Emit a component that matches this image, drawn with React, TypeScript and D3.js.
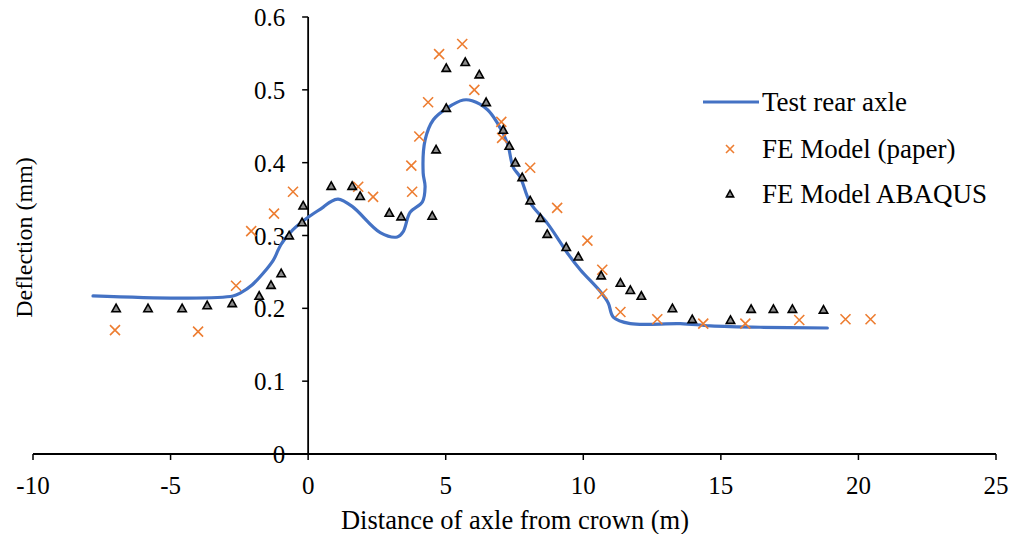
import React from "react";
import * as d3 from "d3";

const lineX = [-7.82, -4.55, -2.73, -2.47, -2.04, -1.27, -1.09, -0.95, -0.55, -0.04, 0.55, 0.8, 1.09, 1.6, 2.62, 3.24, 3.45, 3.71, 4.15, 4.25, 4.18, 4.25, 4.55, 5.05, 5.64, 5.96, 6.51, 6.87, 7.24, 7.45, 7.71, 8.07, 8.69, 9.16, 9.42, 9.89, 10.62, 10.91, 11.09, 11.71, 13.53, 14.62, 16.44, 18.87];
const lineY = [0.217, 0.214, 0.217, 0.221, 0.232, 0.266, 0.28, 0.29, 0.308, 0.324, 0.339, 0.346, 0.35, 0.34, 0.304, 0.298, 0.305, 0.332, 0.346, 0.367, 0.386, 0.431, 0.459, 0.475, 0.486, 0.485, 0.473, 0.455, 0.427, 0.394, 0.38, 0.345, 0.317, 0.291, 0.276, 0.253, 0.223, 0.207, 0.188, 0.179, 0.179, 0.176, 0.174, 0.173];

const paperX = [-7.02, -4.0, -2.62, -2.07, -1.24, -0.55, 1.82, 2.36, 3.78, 3.75, 4.04, 4.36, 4.76, 5.6, 6.04, 7.02, 7.05, 8.07, 9.05, 10.15, 10.69, 10.69, 11.35, 12.69, 14.36, 15.89, 17.85, 19.53, 20.44];
const paperY = [0.17, 0.168, 0.231, 0.306, 0.33, 0.36, 0.367, 0.353, 0.36, 0.396, 0.436, 0.483, 0.549, 0.563, 0.5, 0.456, 0.434, 0.393, 0.338, 0.293, 0.253, 0.22, 0.195, 0.185, 0.179, 0.179, 0.184, 0.185, 0.185];

const abaqusX = [-6.98, -5.82, -4.58, -3.67, -2.76, -1.78, -1.35, -0.98, -0.69, -0.22, -0.18, 0.84, 1.6, 1.89, 2.95, 3.38, 4.51, 4.65, 5.02, 5.02, 5.71, 6.22, 6.47, 7.09, 7.31, 7.53, 7.78, 8.07, 8.44, 8.69, 9.38, 9.82, 10.65, 11.35, 11.71, 12.11, 13.24, 13.96, 15.35, 16.1, 16.91, 17.6, 18.73];
const abaqusY = [0.2, 0.2, 0.2, 0.204, 0.207, 0.217, 0.232, 0.248, 0.3, 0.318, 0.341, 0.368, 0.368, 0.354, 0.331, 0.326, 0.327, 0.418, 0.475, 0.53, 0.538, 0.521, 0.483, 0.445, 0.423, 0.4, 0.38, 0.348, 0.324, 0.302, 0.284, 0.271, 0.245, 0.235, 0.225, 0.217, 0.2, 0.185, 0.184, 0.199, 0.199, 0.199, 0.198];

const xTicks = [-10, -5, 0, 5, 10, 15, 20, 25];
const yTicks = [0, 0.1, 0.2, 0.3, 0.4, 0.5, 0.6];
const legendLabels = ["Test rear axle", "FE Model (paper)", "FE Model ABAQUS"];

const FONT = '"Liberation Serif", "Times New Roman", Times, serif';
const BLUE = "#4472C4";
const ORANGE = "#ED7D31";
const ts: React.CSSProperties = { fontFamily: FONT };

function Cross({ x, y, s = 5 }: { x: number; y: number; s?: number }) {
  return (
    <path d={`M${x - s},${y - s}L${x + s},${y + s}M${x - s},${y + s}L${x + s},${y - s}`} stroke={ORANGE} strokeWidth={1.6} fill="none" />
  );
}

function Tri({ x, y, s = 4.2 }: { x: number; y: number; s?: number }) {
  return (
    <path d={`M${x},${y - s}L${x + s},${y + s * 0.8}L${x - s},${y + s * 0.8}Z`} fill="#8c8c8c" stroke="#000" strokeWidth={1.6} strokeLinejoin="miter" />
  );
}

export default function App() {
  const W = 1016, H = 534;
  const x = d3.scaleLinear().domain([-10, 25]).range([33, 996]);
  const y = d3.scaleLinear().domain([0, 0.6]).range([454, 17]);
  const lineData = lineX.map((v, i) => [v, lineY[i]] as [number, number]);
  const line = d3.line<[number, number]>().x(d => x(d[0])).y(d => y(d[1])).curve(d3.curveCatmullRom.alpha(0.5));
  const x0 = x(0);
  return (
    <svg width={W} height={H} style={{ position: "absolute", left: 0, top: 0, background: "#fff", fontFamily: FONT }}>
      <rect width={W} height={H} fill="#fff" />
      {/* x axis */}
      <line x1={x(-10)} x2={x(25)} y1={y(0)} y2={y(0)} stroke="#000" strokeWidth={1.8} />
      {xTicks.map(t => (
        <g key={t}>
          <line x1={x(t)} x2={x(t)} y1={y(0)} y2={y(0) + 6} stroke="#000" strokeWidth={1.5} />
          <text x={x(t)} y={y(0) + 40} textAnchor="middle" fontSize={25} style={ts}>{t}</text>
        </g>
      ))}
      {/* y axis */}
      <line x1={x0} x2={x0} y1={y(0)} y2={y(0.6)} stroke="#000" strokeWidth={1.8} />
      {yTicks.map(t => (
        <g key={t}>
          <line x1={x0 - 6} x2={x0} y1={y(t)} y2={y(t)} stroke="#000" strokeWidth={1.5} />
          <text x={x0 - 23} y={y(t) + 9} textAnchor="end" fontSize={25} style={ts}>{t === 0 ? "0" : t.toFixed(1)}</text>
        </g>
      ))}
      <text transform={`translate(32,${y(0.3) + 2}) rotate(-90)`} textAnchor="middle" fontSize={24} style={ts}>Deflection (mm)</text>
      <text x={515} y={529} textAnchor="middle" fontSize={26.5} style={ts}>Distance of axle from crown (m)</text>
      {/* data */}
      <path d={line(lineData) || ""} fill="none" stroke={BLUE} strokeWidth={3.2} strokeLinejoin="round" strokeLinecap="round" />
      {paperX.map((v, i) => <Cross key={"p" + i} x={x(v)} y={y(paperY[i])} />)}
      {abaqusX.map((v, i) => <Tri key={"a" + i} x={x(v)} y={y(abaqusY[i])} />)}
      {/* legend */}
      <line x1={703} x2={759} y1={102} y2={102} stroke={BLUE} strokeWidth={3.2} />
      <text x={762} y={111} fontSize={27} style={ts}>{legendLabels[0]}</text>
      <Cross x={730} y={149} s={4} />
      <text x={762} y={158} fontSize={27} style={ts}>{legendLabels[1]}</text>
      <Tri x={730} y={194} s={3.6} />
      <text x={762} y={203} fontSize={27} style={ts}>{legendLabels[2]}</text>
    </svg>
  );
}
